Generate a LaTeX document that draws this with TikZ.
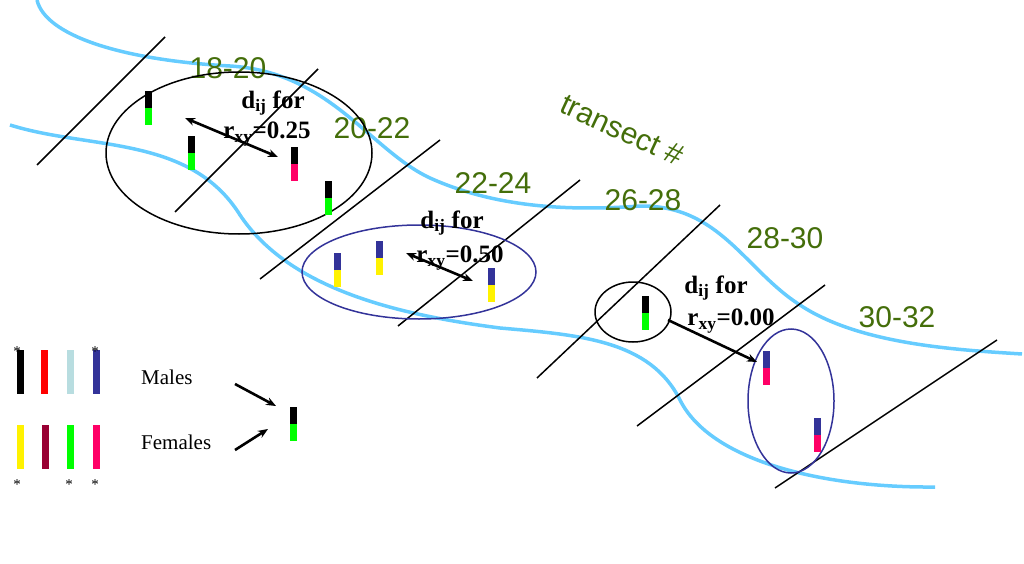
\documentclass[tikz,border=0pt]{standalone}
\usepackage{fontspec}
\setmainfont{Liberation Serif}
\setsansfont{Liberation Sans}
\usetikzlibrary{arrows.meta}
\definecolor{river}{RGB}{102,204,255}
\definecolor{tgreen}{RGB}{68,110,10}
\definecolor{navy}{RGB}{51,51,153}
\definecolor{pinkred}{RGB}{255,0,102}
\definecolor{maroon}{RGB}{153,0,51}
\definecolor{paleblue}{RGB}{184,221,224}
\definecolor{lgreen}{RGB}{0,255,0}
% a two-colour genotype bar: x, top y, upper colour, lower colour
\newcommand{\genebar}[4]{%
  \fill[#3] (#1-3.5,#2) rectangle (#1+3.5,#2+17);
  \fill[#4] (#1-3.5,#2+17) rectangle (#1+3.5,#2+34);}
\begin{document}
\begin{tikzpicture}[x=1pt,y=-1pt]
        \tikzstyle{every node}=[inner sep=0pt]
        \tikzstyle{transect}=[draw=black, line width=1.5pt]
        \tikzstyle{bank}=[draw=river, line width=3.5pt]
        \tikzstyle{tlabel}=[text=tgreen, font=\sffamily\fontsize{30}{30}\selectfont]
        \tikzstyle{dlabel}=[font=\bfseries\fontsize{25}{25}\selectfont]
        \tikzstyle{legend}=[font=\fontsize{21}{21}\selectfont]
        \tikzstyle{pointer}=[-{Stealth[length=10pt,width=8pt]}, line width=2.6pt]
        \useasboundingbox (0,0) rectangle (1024,564);

        % River banks
        \draw[bank] (37,0) .. controls (45,35) and (120,60) .. (230,66)
            .. controls (330,72) and (370,150) .. (430,178)
            .. controls (490,205) and (560,212) .. (640,206)
            .. controls (720,205) and (745,270) .. (800,305)
            .. controls (860,345) and (960,350) .. (1022,354);
        \draw[bank] (10,125) .. controls (90,150) and (190,135) .. (240,215)
            .. controls (290,290) and (400,315) .. (500,328)
            .. controls (580,335) and (650,340) .. (680,400)
            .. controls (710,460) and (820,488) .. (935,487);

        % Transects
        \draw[transect] (37,165) -- (165,37);
        \draw[transect] (175,212) -- (318,69);
        \draw[transect] (260,279) -- (440,140);
        \draw[transect] (398,326) -- (580,180);
        \draw[transect] (537,378) -- (720,205);
        \draw[transect] (637,426) -- (825,285);
        \draw[transect] (775,488) -- (997,340);

        % Transect labels
        \node (t1) [tlabel] at (228,68) {18-20};
        \node (t2) [tlabel] at (372,128) {20-22};
        \node (t3) [tlabel] at (493,183) {22-24};
        \node (t4) [tlabel] at (643,200) {26-28};
        \node (t5) [tlabel] at (785,238) {28-30};
        \node (t6) [tlabel] at (897,317) {30-32};
        \node (tnum) [tlabel, rotate=-25] at (622,130) {transect \#};

        % Groups
        \draw[line width=1.5pt] (239,153) ellipse [x radius=133, y radius=81];
        \draw[navy, line width=1.5pt] (419,272) ellipse [x radius=117, y radius=47];
        \draw[line width=1.5pt] (633,312) ellipse [x radius=38, y radius=30];
        \draw[navy, line width=1.5pt] (791,401) ellipse [x radius=43, y radius=72];

        % Individuals
        \genebar{148}{91}{black}{lgreen}
        \genebar{191}{136}{black}{lgreen}
        \genebar{294}{147}{black}{pinkred}
        \genebar{328}{181}{black}{lgreen}
        \genebar{337}{253}{navy}{yellow}
        \genebar{379}{241}{navy}{yellow}
        \genebar{491}{268}{navy}{yellow}
        \genebar{645}{296}{black}{lgreen}
        \genebar{766}{351}{navy}{pinkred}
        \genebar{817}{418}{navy}{pinkred}

        % Distances
        \node (d1) [dlabel] at (273,103) {d\textsubscript{ij} for};
        \node (r1) [dlabel] at (267,134) {r\textsubscript{xy}=0.25};
        \node (d2) [dlabel] at (452,223) {d\textsubscript{ij} for};
        \node (r2) [dlabel] at (460,258) {r\textsubscript{xy}=0.50};
        \node (d3) [dlabel] at (716,288) {d\textsubscript{ij} for};
        \node (r3) [dlabel] at (731,321) {r\textsubscript{xy}=0.00};
        \coordinate (a1) at (185,118); \coordinate (b1) at (278,157);
        \coordinate (a2) at (406,253); \coordinate (b2) at (473,281);
        \coordinate (a3) at (668,320); \coordinate (b3) at (757,362);
        \draw[pointer, {Stealth[length=10pt,width=8pt]}-{Stealth[length=10pt,width=8pt]}] (a1) -- (b1);
        \draw[pointer, {Stealth[length=10pt,width=8pt]}-{Stealth[length=10pt,width=8pt]}] (a2) -- (b2);
        \draw[pointer] (a3) -- (b3);

        % Legend
        \foreach \x/\c in {20/black, 44/red, 70/paleblue, 96/navy}
            \fill[\c] (\x-3.5,350) rectangle (\x+3.5,394);
        \foreach \x/\c in {20/yellow, 45/maroon, 70/lgreen, 96/pinkred}
            \fill[\c] (\x-3.5,425) rectangle (\x+3.5,469);
        \foreach \x/\y in {17/352, 95/352, 17/485, 69/485, 95/485}
            \node at (\x,\y) {\fontsize{15}{15}\selectfont *};
        \node (males) [legend, anchor=west] at (141,377) {Males};
        \node (females) [legend, anchor=west] at (141,442) {Females};
        \genebar{293}{407}{black}{lgreen}
        \coordinate (m1) at (235,384); \coordinate (m2) at (276,406);
        \coordinate (f1) at (235,450); \coordinate (f2) at (268,429);
        \draw[pointer] (m1) -- (m2);
        \draw[pointer] (f1) -- (f2);
\end{tikzpicture}
\end{document}
